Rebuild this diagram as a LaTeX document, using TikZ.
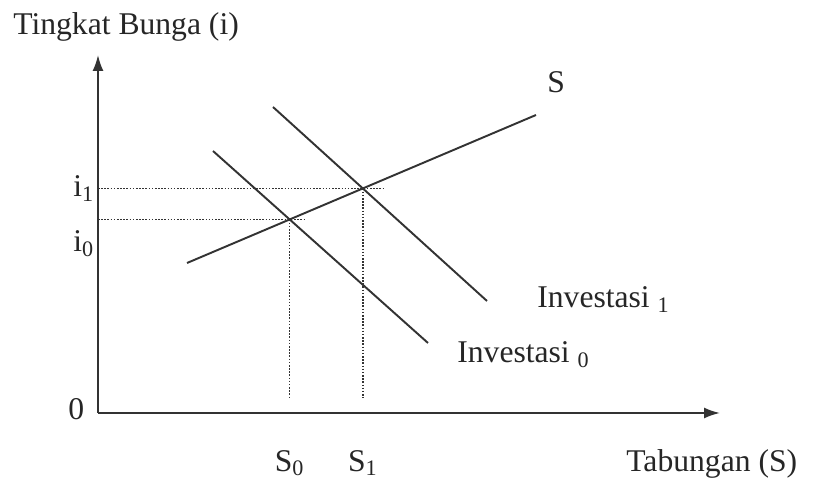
\documentclass[tikz,border=0pt]{standalone}
\usepackage{fontspec}
\setmainfont{Liberation Serif}
\usetikzlibrary{arrows.meta,positioning}

\begin{document}
\begin{tikzpicture}[
  x=0.02cm, y=-0.02cm,
  font=\fontsize{18}{20}\selectfont, text=black!85,
  axis/.style={draw=black!80, line width=1.1pt, -{Latex[length=3.2mm,width=2.2mm]}},
  curve/.style={draw=black!80, line width=1.1pt},
  guide/.style={draw=black!80, line width=0.9pt, dash pattern=on 0.9pt off 0.9pt},
  lbl/.style={inner sep=0pt, anchor=base west},
]
\useasboundingbox (0,0) rectangle (826,489);

% axes
\coordinate (o) at (98,413);
\coordinate (ytop) at (98,55);
\coordinate (xend) at (720,413);
\draw[axis] (o) -- (ytop);
\draw[axis] (o) -- (xend);

% tabungan and investasi lines
\coordinate (sA) at (187,263);
\coordinate (sB) at (536,115);
\coordinate (invA0) at (213,151);
\coordinate (invB0) at (428,343);
\coordinate (invA1) at (273,107);
\coordinate (invB1) at (487,301);
\draw[curve] (sA) -- (sB);
\draw[curve] (invA0) -- (invB0);
\draw[curve] (invA1) -- (invB1);

% equilibrium points and dotted guides
\coordinate (e0) at (intersection of sA--sB and invA0--invB0);
\coordinate (e1) at (intersection of sA--sB and invA1--invB1);
\coordinate (gbot) at (0,398);
\draw[guide] (o |- e1) -- (e1) -- ++(20,0);
\draw[guide] (o |- e0) -- (e0) -- ++(17,0);
\draw[guide] (e1) -- (e1 |- gbot);
\draw[guide] (e0) -- (e0 |- gbot);

% labels
\coordinate (lblrow) at (0,463);
\node[lbl] (ylab) at (13,35) {Tingkat Bunga (i)};
\node[lbl] (i1lab) at (73,197) {i\textsubscript{1}};
\node[lbl] (i0lab) at (73,252) {i\textsubscript{0}};
\node[lbl] (zero) at (68,420) {0};
\node (s0lab) at (e0 |- lblrow) {S\textsubscript{0}};
\node (s1lab) at (e1 |- lblrow) {S\textsubscript{1}};
\node[lbl] (xlab) at (626,472) {Tabungan (S)};
\node[lbl] (slab) at (547,93) {S};
\node[lbl] (inv1lab) at (537,308) {Investasi \textsubscript{1}};
\node[lbl] (inv0lab) at (457,363) {Investasi \textsubscript{0}};

\end{tikzpicture}
\end{document}
